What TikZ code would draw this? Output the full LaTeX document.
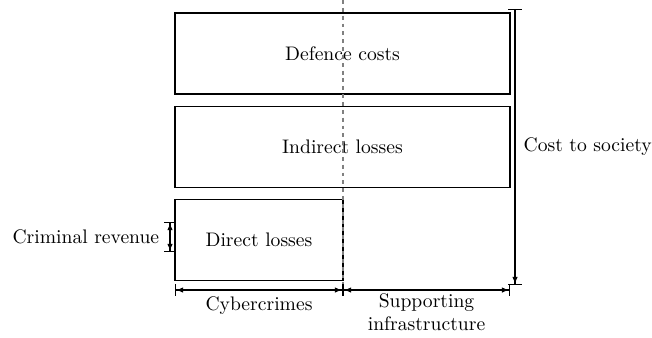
\documentclass[tikz,border=0pt]{standalone}
\usepackage{tikz}
\usetikzlibrary{arrows.meta,positioning}
\tikzset{costbox/.style={draw,semithick,minimum width=170.9pt,minimum height=41.3pt,inner sep=0pt}}
\tikzset{dimline/.style={arrows={Bar[width=6pt]Latex[length=3.5pt,width=2.8pt]-Latex[length=3.5pt,width=2.8pt]Bar[width=6pt]},semithick}}
\tikzset{socline/.style={arrows={Bar[width=7pt]-Latex[length=3.5pt,width=2.8pt]Bar[width=7pt]},semithick}}

\begin{document}
\begin{tikzpicture}[x=0.51pt,y=-0.51pt,node distance=5.6pt]
      \useasboundingbox (0,0) rectangle (652,337);
      \node[costbox](defence) at (342.5,53.5){Defence costs};
      \node[costbox,below=of defence](indirect){Indirect losses};
      \node[costbox,minimum width=85.7pt,below=of indirect.south west,anchor=north west](direct){Direct losses};
      
      \draw[gray,dash pattern=on 2pt off 2pt,semithick] (343,0) coordinate(split top) -- (343,297) coordinate(split bot);
      
      \coordinate(soc top) at (515,9);
      \coordinate(soc bot) at (515,285);
      \draw[socline] (soc top) -- (soc bot);
      \node[right=6.4pt of indirect.east,inner xsep=0pt](society){Cost to society};
      
      \coordinate(cyb l) at (175,290);
      \coordinate(cyb r) at (343,290);
      \coordinate(inf r) at (510,290);
      \draw[dimline] (cyb l) -- node[below=0pt](cyber){Cybercrimes} (cyb r);
      \draw[dimline] (cyb r) -- node[below=0.5pt,align=center,inner ysep=1pt](infra){Supporting\\infrastructure} (inf r);
      
      \coordinate(rev top) at (170,222);
      \coordinate(rev bot) at (170,252);
      \draw[dimline] (rev top) -- (rev bot);
      \node[left=2pt of rev top,anchor=east,yshift=-7.6pt](revenue){Criminal revenue};
    \end{tikzpicture}
\end{document}
